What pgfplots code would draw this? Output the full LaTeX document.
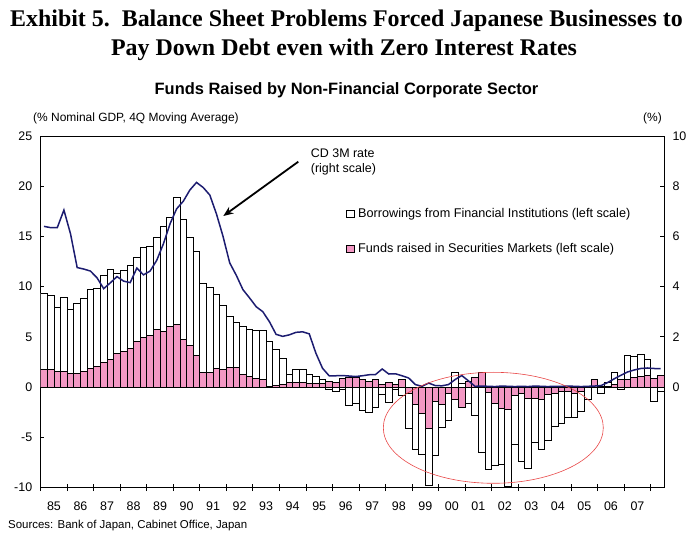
\documentclass[border=0pt]{standalone}
\usepackage{fontspec}
\setmainfont{Liberation Sans}
\newfontfamily\timesfont{Liberation Serif}
\usepackage{pgfplots}
\usepackage{pgfplotstable}
\pgfplotsset{compat=1.18}
\usetikzlibrary{arrows.meta}
\definecolor{pinkbar}{RGB}{243,152,196}
\definecolor{navyline}{RGB}{28,28,112}
\definecolor{ellred}{RGB}{232,70,70}

% x = quarter slot centre (1985Q1 = 0.5), white = drawn extent of the borrowings bar, pink = securities
\pgfplotstableread{
x white pink
0.5 9.35 1.72
1.5 9.15 1.72
2.5 7.96 1.60
3.5 8.96 1.60
4.5 7.76 1.39
5.5 8.29 1.39
6.5 8.86 1.60
7.5 9.75 1.89
8.5 9.85 2.06
9.5 11.14 2.45
10.5 11.74 2.72
11.5 11.28 3.38
12.5 11.61 3.58
13.5 12.14 3.88
14.5 12.94 4.58
15.5 13.86 4.97
16.5 14.03 5.17
17.5 14.93 5.70
18.5 15.99 5.50
19.5 16.90 6.07
20.5 18.90 6.27
21.5 16.65 4.78
22.5 14.93 4.18
23.5 13.53 3.18
24.5 10.28 1.49
25.5 9.95 1.49
26.5 9.19 1.89
27.5 8.16 1.79
28.5 7.03 1.99
29.5 6.47 1.99
30.5 6.04 1.29
31.5 5.77 1.03
32.5 5.67 0.90
33.5 5.67 0.73
34.5 4.51 0.07
35.5 3.71 0.13
36.5 2.85 0.27
37.5 1.29 0.46
38.5 1.72 0.50
39.5 1.72 0.50
40.5 1.29 0.40
41.5 1.06 0.40
42.5 0.80 0.40
43.5 -0.20 0.60
44.5 -0.43 0.50
45.5 -0.20 0.90
46.5 -1.79 1.00
47.5 -1.59 1.00
48.5 -2.35 0.73
49.5 -2.49 0.56
50.5 -1.99 0.80
51.5 -0.70 0.30
52.5 -1.49 0.50
53.5 -0.27 0.30
54.5 -0.83 0.73
55.5 -4.08 -0.60
56.5 -6.24 -1.76
57.5 -6.67 -2.59
58.5 -9.78 -4.08
59.5 -6.80 -1.43
60.5 -3.98 -1.76
61.5 -3.32 -0.66
62.5 1.49 -1.26
63.5 0.33 -1.99
64.5 -1.59 0.56
65.5 -2.85 1.00
66.5 -6.50 1.49
67.5 -8.22 -0.53
68.5 -7.76 -1.59
69.5 -7.66 -2.09
70.5 -9.90 -2.19
71.5 -5.67 -0.86
72.5 -7.40 -0.60
73.5 -8.06 -1.09
74.5 -5.47 -1.09
75.5 -6.17 -1.19
76.5 -5.31 -0.76
77.5 -3.91 -0.60
78.5 -3.65 -0.43
79.5 -3.02 -0.43
80.5 -2.99 -0.66
81.5 -2.39 -0.43
82.5 -1.19 0.10
83.5 0.00 0.80
84.5 -0.60 0.05
85.5 0.46 0.10
86.5 1.49 0.30
87.5 -0.20 0.73
88.5 3.18 0.80
89.5 3.08 0.96
90.5 3.28 1.06
91.5 2.72 1.13
92.5 -1.39 0.90
93.5 -0.40 1.19
}\bars

\pgfplotstableread{
x rate
0.5 6.40
1.5 6.35
2.5 6.35
3.5 7.05
4.5 6.10
5.5 4.76
6.5 4.70
7.5 4.62
8.5 4.35
9.5 3.92
10.5 4.15
11.5 4.40
12.5 4.22
13.5 4.16
14.5 4.74
15.5 4.47
16.5 4.62
17.5 5.05
18.5 5.70
19.5 6.50
20.5 7.10
21.5 7.40
22.5 7.85
23.5 8.15
24.5 7.95
25.5 7.65
26.5 6.90
27.5 6.00
28.5 4.95
29.5 4.45
30.5 3.88
31.5 3.55
32.5 3.20
33.5 3.00
34.5 2.60
35.5 2.10
36.5 2.02
37.5 2.08
38.5 2.18
39.5 2.20
40.5 2.12
41.5 1.35
42.5 0.75
43.5 0.45
44.5 0.45
45.5 0.46
46.5 0.44
47.5 0.42
48.5 0.45
49.5 0.49
50.5 0.50
51.5 0.72
52.5 0.52
53.5 0.53
54.5 0.45
55.5 0.36
56.5 0.10
57.5 0.03
58.5 0.16
59.5 0.06
60.5 0.05
61.5 0.10
62.5 0.30
63.5 0.46
64.5 0.25
65.5 0.03
66.5 0.04
67.5 0.03
68.5 0.02
69.5 0.04
70.5 0.03
71.5 0.02
72.5 0.03
73.5 0.02
74.5 0.04
75.5 0.03
76.5 0.02
77.5 0.03
78.5 0.03
79.5 0.04
80.5 0.03
81.5 0.02
82.5 0.03
83.5 0.04
84.5 0.06
85.5 0.18
86.5 0.33
87.5 0.47
88.5 0.60
89.5 0.68
90.5 0.74
91.5 0.76
92.5 0.74
93.5 0.73
}\rate

\begin{document}
\begin{tikzpicture}
\path[use as bounding box] (0bp,0bp) rectangle (697bp,539bp);

\node[anchor=base, inner sep=0, font=\timesfont\bfseries\fontsize{24}{26}\selectfont] at (346.5bp,512bp) {Exhibit 5.\ \ Balance Sheet Problems Forced Japanese Businesses to};
\node[anchor=base, inner sep=0, font=\timesfont\bfseries\fontsize{24}{26}\selectfont] at (344bp,483bp) {Pay Down Debt even with Zero Interest Rates};
\node[anchor=base, inner sep=0, font=\bfseries\fontsize{16.5}{18}\selectfont] at (346.5bp,444bp) {Funds Raised by Non-Financial Corporate Sector};
\node[anchor=base west, inner sep=0, font=\fontsize{12}{14}\selectfont] at (33bp,417bp) {(\% Nominal GDP, 4Q Moving Average)};
\node[anchor=base east, inner sep=0, font=\fontsize{12}{14}\selectfont] at (662bp,417bp) {(\%)};
\node[anchor=base west, inner sep=0, font=\fontsize{11.5}{13}\selectfont] at (8bp,11bp) {Sources: Bank of Japan, Cabinet Office, Japan};

\begin{axis}[
  at={(40.7bp,51.5bp)}, anchor=south west,
  scale only axis, width=623.3bp, height=351.5bp,
  xmin=0, xmax=94, ymin=-10, ymax=25,
  axis line style={line width=0.9bp},
  tick style={line width=0.8bp, black},
  tick align=inside, major tick length=3.5bp,
  ytick={-10,-5,0,5,10,15,20,25},
  yticklabels={-10,-5,0,5,10,15,20,25},
  ytick pos=left,
  xtick={2,6,...,90},
  xticklabels={85,86,87,88,89,90,91,92,93,94,95,96,97,98,99,00,01,02,03,04,05,06,07},
  xtick pos=left,
  major x tick style={draw=none},
  minor xtick={0,4,...,92},
  minor tick length=7bp,
  minor x tick style={yshift=-3.5bp},
  ticklabel style={font=\fontsize{12.5}{14}\selectfont},
  xticklabel style={yshift=-10.5bp},
  yticklabel style={xshift=-5bp},
  legend style={draw=none, fill=none, at={(axis description cs:0.49,0.80)}, anchor=north west,
    font=\fontsize{12.7}{14}\selectfont, row sep=20bp, column sep=2bp, inner sep=0pt},
  legend cell align=left,
]
\addplot[ybar, bar width=1, bar shift=0pt, fill=white, draw=black, line width=0.8bp,
  legend image code/.code={\draw[fill=white, draw=black, line width=0.6bp] (0bp,-3.6bp) rectangle (7.3bp,3.6bp);}]
  table[x=x, y=white] {\bars};
\addlegendentry{Borrowings from Financial Institutions (left scale)}
\addplot[ybar, bar width=1, bar shift=0pt, fill=pinkbar, draw=black, line width=0.8bp,
  legend image code/.code={\draw[fill=pinkbar, draw=black, line width=0.6bp] (0bp,-3.6bp) rectangle (7.3bp,3.6bp);}]
  table[x=x, y=pink] {\bars};
\addlegendentry{Funds raised in Securities Markets (left scale)}
\end{axis}

\begin{axis}[
  at={(40.7bp,51.5bp)}, anchor=south west,
  scale only axis, width=623.3bp, height=351.5bp,
  xmin=0, xmax=94, ymin=-4, ymax=10,
  axis y line*=right, axis x line=none,
  axis line style={line width=0.9bp},
  tick style={line width=0.8bp, black},
  tick align=inside, major tick length=4bp,
  ytick={0,2,4,6,8,10},
  yticklabels={0,2,4,6,8,10},
  ticklabel style={font=\fontsize{12.5}{14}\selectfont},
  yticklabel style={xshift=5bp},
]
\addplot[navyline, line width=1.5bp, no markers] table[x=x, y=rate] {\rate};
\end{axis}

\draw[ellred, line width=0.6bp] (493.3bp,111.2bp) ellipse [x radius=110bp, y radius=55.5bp];
\draw[black, line width=1.8bp, -{Stealth[length=10bp,width=8bp]}] (298.3bp,377.3bp) -- (223.3bp,323bp);
\node[anchor=base west, inner sep=0, align=left, font=\fontsize{12.5}{15}\selectfont] at (310.7bp,381.5bp) {CD 3M rate};
\node[anchor=base west, inner sep=0, align=left, font=\fontsize{12.5}{15}\selectfont] at (310.7bp,366.5bp) {(right scale)};
\end{tikzpicture}
\end{document}
